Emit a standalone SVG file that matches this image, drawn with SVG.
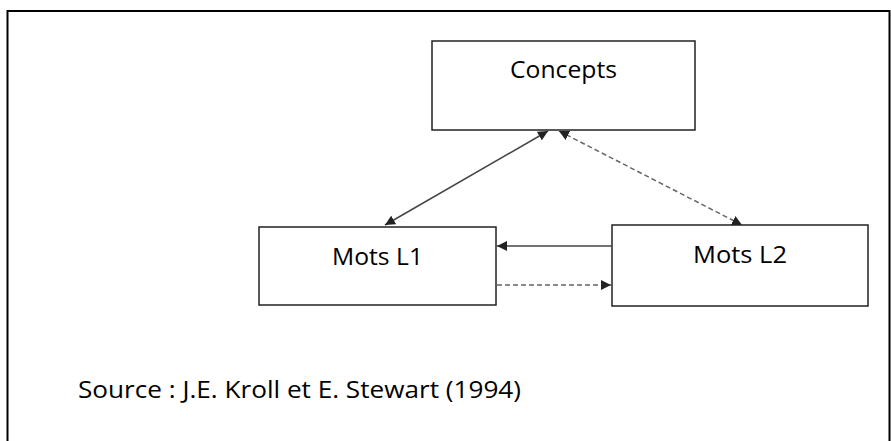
<svg xmlns="http://www.w3.org/2000/svg" width="891" height="441" viewBox="0 0 891 441">
<defs>
<style>
.box{fill:#fff;stroke:#222;stroke-width:1.5}
.lbl{font-family:"Open Sans","Liberation Sans",Arial,sans-serif;font-size:23px;fill:#000}
.solid{stroke:#444;stroke-width:1.5;fill:none}
.dash{stroke:#666;stroke-width:1.5;fill:none;stroke-dasharray:5 3}
</style>
<marker id="ah" viewBox="0 0 10 10" refX="10" refY="5" markerWidth="10" markerHeight="10" markerUnits="userSpaceOnUse" orient="auto-start-reverse">
<path d="M0,0 L10,5 L0,10 z" fill="#222"/>
</marker>
</defs>
<rect x="0" y="0" width="891" height="441" fill="#fff"/>
<rect x="7.5" y="11" width="882" height="440" fill="none" stroke="#000" stroke-width="2"/>
<g id="concepts">
<rect class="box" x="432" y="41" width="263" height="89"/>
<text class="lbl" x="510" y="78" textLength="107" lengthAdjust="spacingAndGlyphs">Concepts</text>
</g>
<g id="motsL1">
<rect class="box" x="259" y="227" width="237" height="78"/>
<text class="lbl" x="332" y="265" textLength="91" lengthAdjust="spacingAndGlyphs">Mots L1</text>
</g>
<g id="motsL2">
<rect class="box" x="612" y="225" width="256" height="81"/>
<text class="lbl" x="693" y="263" textLength="94" lengthAdjust="spacingAndGlyphs">Mots L2</text>
</g>
<g id="connectors">
<line class="solid" x1="548" y1="131" x2="385" y2="225" marker-start="url(#ah)" marker-end="url(#ah)"/>
<line class="dash" x1="559" y1="131" x2="742" y2="225" marker-start="url(#ah)" marker-end="url(#ah)"/>
<line class="solid" x1="612" y1="246" x2="497" y2="246" marker-end="url(#ah)"/>
<line class="dash" x1="497" y1="285" x2="611" y2="285" marker-end="url(#ah)"/>
</g>
<text id="source" class="lbl" x="78" y="398" textLength="443" lengthAdjust="spacingAndGlyphs">Source : J.E. Kroll et E. Stewart (1994)</text>
</svg>
